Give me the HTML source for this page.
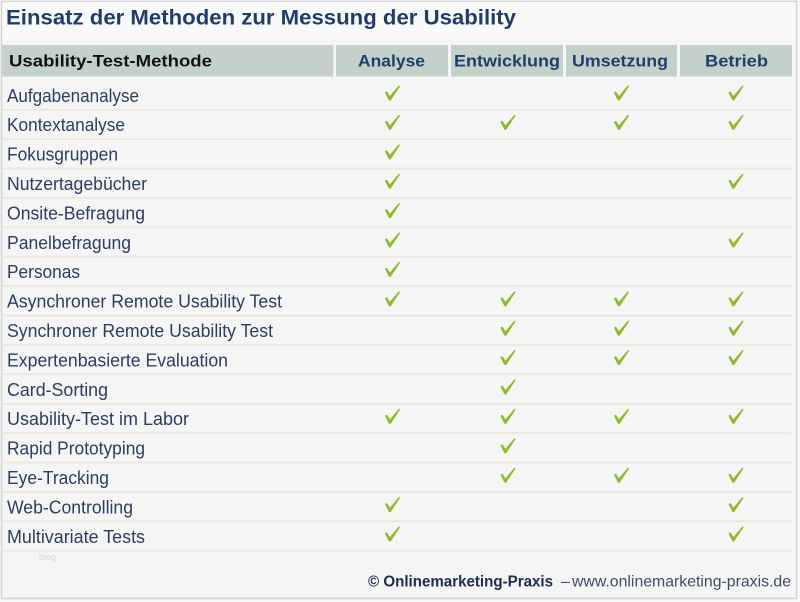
<!DOCTYPE html>
<html>
<head>
<meta charset="utf-8">
<style>
html,body{margin:0;padding:0;background:#f5f5f5;}
svg{display:block;}
text{font-family:"Liberation Sans","DejaVu Sans",sans-serif;}
</style>
</head>
<body>
<svg width="800" height="602" viewBox="0 0 800 602" xmlns="http://www.w3.org/2000/svg">
<defs>
<symbol id="ck" viewBox="-8 -8 16 16" overflow="visible">
<polygon points="-7.6,-0.6 -5.6,-1.6 -2.6,3.0 6.4,-7.6 7.6,-6.8 -1.8,7.4 -3.6,7.4" fill="#8fba2c"/>
</symbol>
</defs>
<rect x="0" y="0" width="800" height="602" fill="#f7f7f7"/>
<rect x="1.5" y="1.5" width="795" height="597" fill="#f5f5f5" stroke="#d3d3d3" stroke-width="1.5"/>
<rect x="2.3" y="2.3" width="793.5" height="38" fill="#f9f9f9"/>

<text x="6" y="24.5" font-size="21" font-weight="bold" fill="#1f3d6b" textLength="510" lengthAdjust="spacingAndGlyphs">Einsatz der Methoden zur Messung der Usability</text>

<!-- header -->
<rect x="2.3" y="45" width="331" height="31.5" fill="#c3d1ca"/>
<rect x="336" y="45" width="112" height="31.5" fill="#c3d1ca"/>
<rect x="451" y="45" width="112" height="31.5" fill="#c3d1ca"/>
<rect x="566" y="45" width="111" height="31.5" fill="#c3d1ca"/>
<rect x="680" y="45" width="112" height="31.5" fill="#c3d1ca"/>
<g font-size="17" font-weight="bold">
<text x="9" y="66.5" fill="#121212" textLength="203" lengthAdjust="spacingAndGlyphs">Usability-Test-Methode</text>
<text x="358" y="66.5" fill="#1f3f6d" textLength="67" lengthAdjust="spacingAndGlyphs">Analyse</text>
<text x="454" y="66.5" fill="#1f3f6d" textLength="106" lengthAdjust="spacingAndGlyphs">Entwicklung</text>
<text x="572" y="66.5" fill="#1f3f6d" textLength="96" lengthAdjust="spacingAndGlyphs">Umsetzung</text>
<text x="705" y="66.5" fill="#1f3f6d" textLength="63" lengthAdjust="spacingAndGlyphs">Betrieb</text>
</g>

<!-- separators -->
<g fill="#ebe9dd">
<rect x="2.3" y="108.7" width="789.5" height="2"/>
<rect x="2.3" y="138.1" width="789.5" height="2"/>
<rect x="2.3" y="167.5" width="789.5" height="2"/>
<rect x="2.3" y="196.9" width="789.5" height="2"/>
<rect x="2.3" y="226.3" width="789.5" height="2"/>
<rect x="2.3" y="255.7" width="789.5" height="2"/>
<rect x="2.3" y="285.1" width="789.5" height="2"/>
<rect x="2.3" y="314.5" width="789.5" height="2"/>
<rect x="2.3" y="343.9" width="789.5" height="2"/>
<rect x="2.3" y="373.3" width="789.5" height="2"/>
<rect x="2.3" y="402.7" width="789.5" height="2"/>
<rect x="2.3" y="432.1" width="789.5" height="2"/>
<rect x="2.3" y="461.5" width="789.5" height="2"/>
<rect x="2.3" y="490.9" width="789.5" height="2"/>
<rect x="2.3" y="520.3" width="789.5" height="2"/>
<rect x="2.3" y="549.7" width="789.5" height="2"/>
</g>

<!-- row labels -->
<g font-size="18.5" fill="#2c3f5f">
<text x="7" y="101.8" textLength="132" lengthAdjust="spacingAndGlyphs">Aufgabenanalyse</text>
<text x="7" y="131.2" textLength="118" lengthAdjust="spacingAndGlyphs">Kontextanalyse</text>
<text x="7" y="160.6" textLength="111" lengthAdjust="spacingAndGlyphs">Fokusgruppen</text>
<text x="7" y="190.0" textLength="140" lengthAdjust="spacingAndGlyphs">Nutzertagebücher</text>
<text x="7" y="219.4" textLength="138" lengthAdjust="spacingAndGlyphs">Onsite-Befragung</text>
<text x="7" y="248.8" textLength="124" lengthAdjust="spacingAndGlyphs">Panelbefragung</text>
<text x="7" y="278.2" textLength="73" lengthAdjust="spacingAndGlyphs">Personas</text>
<text x="7" y="307.6" textLength="275" lengthAdjust="spacingAndGlyphs">Asynchroner Remote Usability Test</text>
<text x="7" y="337.0" textLength="266" lengthAdjust="spacingAndGlyphs">Synchroner Remote Usability Test</text>
<text x="7" y="366.4" textLength="221" lengthAdjust="spacingAndGlyphs">Expertenbasierte Evaluation</text>
<text x="7" y="395.8" textLength="101" lengthAdjust="spacingAndGlyphs">Card-Sorting</text>
<text x="7" y="425.2" textLength="182" lengthAdjust="spacingAndGlyphs">Usability-Test im Labor</text>
<text x="7" y="454.6" textLength="138" lengthAdjust="spacingAndGlyphs">Rapid Prototyping</text>
<text x="7" y="484.0" textLength="102" lengthAdjust="spacingAndGlyphs">Eye-Tracking</text>
<text x="7" y="513.4" textLength="126" lengthAdjust="spacingAndGlyphs">Web-Controlling</text>
<text x="7" y="542.8" textLength="138" lengthAdjust="spacingAndGlyphs">Multivariate Tests</text>
</g>

<!-- checks: columns A=392.5 E=508 U=621.5 B=736 ; cy = row center - 2 -->
<g>
<!-- r1 -->
<use href="#ck" x="384.5" y="85" width="16" height="16"/>
<use href="#ck" x="613.5" y="85" width="16" height="16"/>
<use href="#ck" x="728" y="85" width="16" height="16"/>
<!-- r2 -->
<use href="#ck" x="384.5" y="114.4" width="16" height="16"/>
<use href="#ck" x="500" y="114.4" width="16" height="16"/>
<use href="#ck" x="613.5" y="114.4" width="16" height="16"/>
<use href="#ck" x="728" y="114.4" width="16" height="16"/>
<!-- r3 -->
<use href="#ck" x="384.5" y="143.8" width="16" height="16"/>
<!-- r4 -->
<use href="#ck" x="384.5" y="173.2" width="16" height="16"/>
<use href="#ck" x="728" y="173.2" width="16" height="16"/>
<!-- r5 -->
<use href="#ck" x="384.5" y="202.6" width="16" height="16"/>
<!-- r6 -->
<use href="#ck" x="384.5" y="232.0" width="16" height="16"/>
<use href="#ck" x="728" y="232.0" width="16" height="16"/>
<!-- r7 -->
<use href="#ck" x="384.5" y="261.4" width="16" height="16"/>
<!-- r8 -->
<use href="#ck" x="384.5" y="290.8" width="16" height="16"/>
<use href="#ck" x="500" y="290.8" width="16" height="16"/>
<use href="#ck" x="613.5" y="290.8" width="16" height="16"/>
<use href="#ck" x="728" y="290.8" width="16" height="16"/>
<!-- r9 -->
<use href="#ck" x="500" y="320.2" width="16" height="16"/>
<use href="#ck" x="613.5" y="320.2" width="16" height="16"/>
<use href="#ck" x="728" y="320.2" width="16" height="16"/>
<!-- r10 -->
<use href="#ck" x="500" y="349.6" width="16" height="16"/>
<use href="#ck" x="613.5" y="349.6" width="16" height="16"/>
<use href="#ck" x="728" y="349.6" width="16" height="16"/>
<!-- r11 -->
<use href="#ck" x="500" y="379.0" width="16" height="16"/>
<!-- r12 -->
<use href="#ck" x="384.5" y="408.4" width="16" height="16"/>
<use href="#ck" x="500" y="408.4" width="16" height="16"/>
<use href="#ck" x="613.5" y="408.4" width="16" height="16"/>
<use href="#ck" x="728" y="408.4" width="16" height="16"/>
<!-- r13 -->
<use href="#ck" x="500" y="437.8" width="16" height="16"/>
<!-- r14 -->
<use href="#ck" x="500" y="467.2" width="16" height="16"/>
<use href="#ck" x="613.5" y="467.2" width="16" height="16"/>
<use href="#ck" x="728" y="467.2" width="16" height="16"/>
<!-- r15 -->
<use href="#ck" x="384.5" y="496.6" width="16" height="16"/>
<use href="#ck" x="728" y="496.6" width="16" height="16"/>
<!-- r16 -->
<use href="#ck" x="384.5" y="526.0" width="16" height="16"/>
<use href="#ck" x="728" y="526.0" width="16" height="16"/>
</g>

<text x="39" y="560" font-size="9" fill="#d6d6d6">blog</text>

<text x="368" y="586.5" font-size="16" font-weight="bold" fill="#1d2e4c" textLength="185" lengthAdjust="spacingAndGlyphs">© Onlinemarketing-Praxis</text>
<text x="561" y="586.5" font-size="16" fill="#3e4d68">–</text>
<text x="572" y="586.5" font-size="16" fill="#3e4d68" textLength="219" lengthAdjust="spacingAndGlyphs">www.onlinemarketing-praxis.de</text>
</svg>
</body>
</html>
